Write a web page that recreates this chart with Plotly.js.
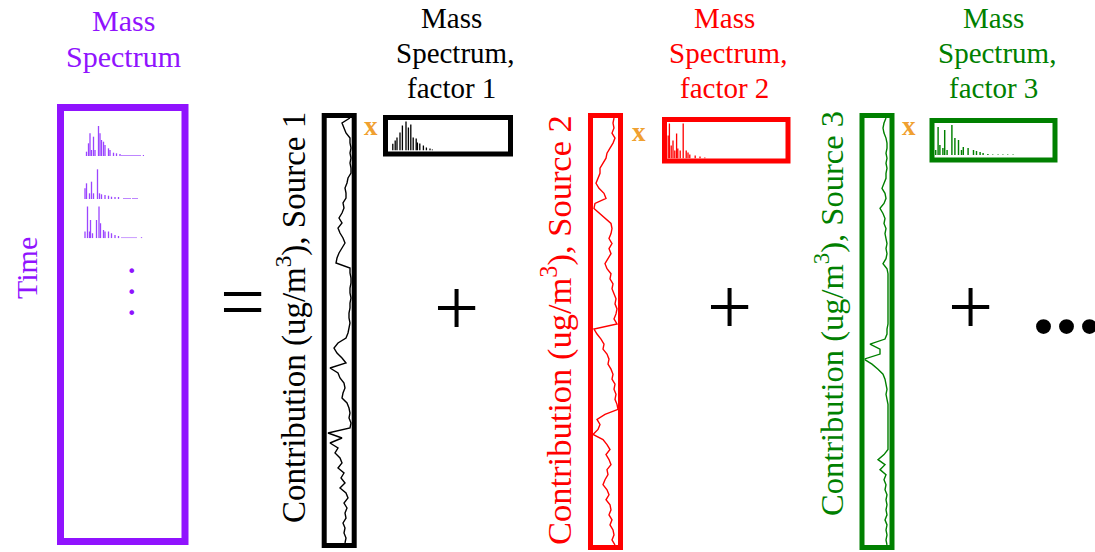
<!DOCTYPE html>
<html><head><meta charset="utf-8">
<script src="https://cdn.plot.ly/plotly-3.0.1.min.js"></script>
<style>html,body{margin:0;padding:0;background:#fff;}#c{width:1095px;height:552px;}</style>
</head><body><div id="c"></div>
<script>
// ---------- data ----------
// Purple input matrix: three example mass spectra (m/z units, intensity)
const msA_mz  = [5,9,12,15,19,22,29,32,35,39,42,49,52,59,65,72,76,80,84,88,92,96,100,104,108,112,119];
const msA_int = [4.3,12.7,22.7,6,19.3,6,30,22.7,16,14.3,11,7.7,6,3.3,2.7,2,1,1,1,1,1,1,1,1,1,1,1];
const msB_mz  = [2,5,11,15,19,27,31,35,42,49,55,62,69,80,84,88,92,98,102,106,122];
const msB_int = [10.7,15.7,5.7,17.3,5.7,29.7,5.7,4.7,4,3.3,2.3,2,2,1,1,1,1,1,1,1,1];
const msC_mz  = [2,7,11,13,17,25,30,33,39,42,49,55,62,69,76,80,84,88,92,96,100,104,115];
const msC_int = [6.7,31.7,6.7,18.3,5,18.3,31.7,15,8.3,6.7,6.7,5,3.3,2.3,1,1,1,1,1,1,1,1,1];

// Factor time series (contribution, time runs top -> bottom)
const source1 = [2,10,8,6,2,2,1,2,1,2,1,1,4,5,7,6,6,9,8,10,13,10,14,12,9,7,10,13,15,16,
  2,2,1,1,2,2,1,2,2,3,3,2,3,4,6,14,18,15,10,6,22,14,12,8,7,9,10,5,3,2,
  3,1,2,24,10,22,14,17,12,10,14,8,11,7,12,6,4,8,5,7,6,9,7,8,6,7];
const source2 = [5,6,5,7,4,6,9,12,13,16,19,19,21,23,20,15,13,24,25,19,13,8,7,8,10,7,10,8,11,14,
  12,8,9,6,7,5,3,4,2,3,5,2,25,22,18,15,16,12,10,11,8,6,7,4,5,3,4,2,1,14,
  22,19,21,26,16,12,9,13,10,8,12,11,14,16,12,10,13,9,8,10,7,9,6,5,7,4];
const source3 = [4,6,7,6,4,3,3,4,3,4,3,4,4,6,8,5,4,6,10,7,5,6,4,5,4,3,4,3,4,7,
  3,2,2,2,2,2,2,2,2,2,2,2,3,3,5,20,10,10,26,18,12,7,5,4,3,4,3,2,2,2,
  2,2,2,2,2,2,2,6,12,5,10,4,6,4,5,3,4,3,4,3,5,3,4,3,4,3];

// Factor mass spectra
const f1_mz  = [8,12,15,20,24,30,34,38,42,47,49,53,59,64,70,74];
const f1_int = [6.7,10,13,18,25,29,23,26,13,12,8,7,5,3,2,1];
const f2_mz  = [2,4,7,10,13,16,18,22,27,32,35,38,47,55,63];
const f2_int = [23,35,13,18,8,25,10,8,35,8,6,4,3,2,1];
const f3_mz  = [2,6,9,14,17,21,29,34,40,45,48,56,65,70,76,81,89,97,106,114,122,131];
const f3_int = [5,28,10,7,25,5,30,17,15,5,8,7,5,4,3,2,1,0.6,0.6,0.6,0.6,0.6];

// ---------- layout helpers ----------
const W = 1095, H = 552;
const PX = x => x / W;
const PY = y => 1 - y / H;
const PURPLE = '#9013FE', RED = '#FF0000', GREEN = '#008000', ORANGE = '#F0A030';
const SERIF = 'Liberation Serif, Times New Roman, serif';
const idx = a => a.map((_, i) => i);

const layout = {
  width: W, height: H, margin: {l:0, r:0, t:0, b:0},
  paper_bgcolor: '#fff', plot_bgcolor: 'rgba(0,0,0,0)', showlegend: false,
  shapes: [], annotations: []
};
function addAxes(n, x0, x1, y0, y1, xr, yr) {
  const s = n === 1 ? '' : n;
  layout['xaxis' + s] = {domain:[PX(x0), PX(x1)], range: xr, visible:false, anchor:'y' + s, fixedrange:true};
  layout['yaxis' + s] = {domain:[PY(y1), PY(y0)], range: yr, visible:false, anchor:'x' + s, fixedrange:true};
}
function box(l, r, t, b, color, w) {
  layout.shapes.push({type:'rect', xref:'paper', yref:'paper', x0:PX(l), x1:PX(r), y0:PY(b), y1:PY(t),
    line:{color: color, width: w}, layer:'above'});
}
function txt(x, y, text, size, color, opts, weight) {
  layout.annotations.push(Object.assign({xref:'paper', yref:'paper', x:PX(x), y:PY(y), text:text,
    showarrow:false, xanchor:'center', yanchor:'middle',
    font:{family:SERIF, size:size, color:color, weight: weight || 'normal'}}, opts || {}));
}

// subplots
addAxes(1, 84, 144, 122, 156, [0,120], [0,34]);
addAxes(2, 84, 144, 165, 199, [0,120], [0,34]);
addAxes(3, 84, 144, 204.3, 238.3, [0,120], [0,34]);
addAxes(4, 326.5, 352, 118, 543, [25.5,0], [85,0]);
addAxes(5, 388, 508, 120, 150.5, [0,200], [0,30.5]);
addAxes(6, 593, 619, 118, 545, [26,0], [85,0]);
addAxes(7, 667, 785.5, 122, 158.5, [0,197.5], [0,36.5]);
addAxes(8, 864.5, 890, 118, 545, [25.5,0], [85,0]);
addAxes(9, 934.5, 1052.5, 123, 157.5, [0,196.7], [-2.5,32]);

const bar = (x, y, n, color, w) => ({type:'bar', x:x, y:y, xaxis:'x'+(n===1?'':n), yaxis:'y'+(n===1?'':n),
  width:w, marker:{color:color, line:{width:0}}, hoverinfo:'skip'});
const line = (v, n, color) => ({type:'scatter', mode:'lines', x:v, y:idx(v), xaxis:'x'+n, yaxis:'y'+n,
  line:{color:color, width:1.4}, hoverinfo:'skip'});

const traces = [
  bar(msA_mz, msA_int, 1, '#9B45FF', 2.6),
  bar(msB_mz, msB_int, 2, '#9B45FF', 2.6),
  bar(msC_mz, msC_int, 3, '#9B45FF', 2.6),
  line(source1, 4, '#000000'),
  bar(f1_mz, f1_int, 5, '#000000', 2.2),
  line(source2, 6, RED),
  bar(f2_mz, f2_int, 7, RED, 2.2),
  line(source3, 8, GREEN),
  bar(f3_mz, f3_int, 9, GREEN, 2.4)
];

// frames
box(60.5, 185, 107.5, 541.5, PURPLE, 7);
box(324.2, 354.2, 115.5, 545.5, '#000', 5);
box(385.5, 510.5, 117.5, 154, '#000', 5);
box(590.5, 620.5, 115.5, 547.5, RED, 5);
box(664.5, 788, 119.5, 161, RED, 5);
box(862, 892, 115.5, 547.5, GREEN, 5);
box(932, 1055, 120.5, 160, GREEN, 5);

// titles
txt(123, 20, 'Mass', 30, PURPLE);
txt(123, 56, 'Spectrum', 30, PURPLE);
[[451,'#000','factor 1'],[724,RED,'factor 2'],[993,GREEN,'factor 3']].forEach(([cx,c,f]) => {
  txt(cx, 18, 'Mass', 29, c);
  txt(cx + 4, 53, 'Spectrum,', 29, c);
  txt(cx, 88, f, 29, c);
});
txt(27, 268, 'Time', 30, PURPLE, {textangle:-90});
txt(291, 318, 'Contribution (ug/m<sup>3</sup>), Source 1', 33, '#000', {textangle:-90});
txt(557, 330, 'Contribution (ug/m<sup>3</sup>), Source 2', 34.5, RED, {textangle:-90});
txt(829, 314, 'Contribution (ug/m<sup>3</sup>), Source 3', 32.5, GREEN, {textangle:-90});

// operators
txt(371, 126, 'x', 27, ORANGE, {}, 'bold');
txt(639, 132, 'x', 27, ORANGE, {}, 'bold');
txt(909, 126, 'x', 27, ORANGE, {}, 'bold');
txt(242, 302, '=', 80, '#000');
txt(456, 308, '+', 80, '#000');
txt(729, 307, '+', 80, '#000');
txt(970, 307, '+', 80, '#000');
txt(1066, 302, '...', 92, '#000', {}, 'bold');
txt(131, 292, '•<br>•<br>•', 16, PURPLE, {font:{family:'DejaVu Sans', size:16, color:PURPLE}});

Plotly.newPlot('c', traces, layout, {staticPlot:true, displayModeBar:false});
</script></body></html>
